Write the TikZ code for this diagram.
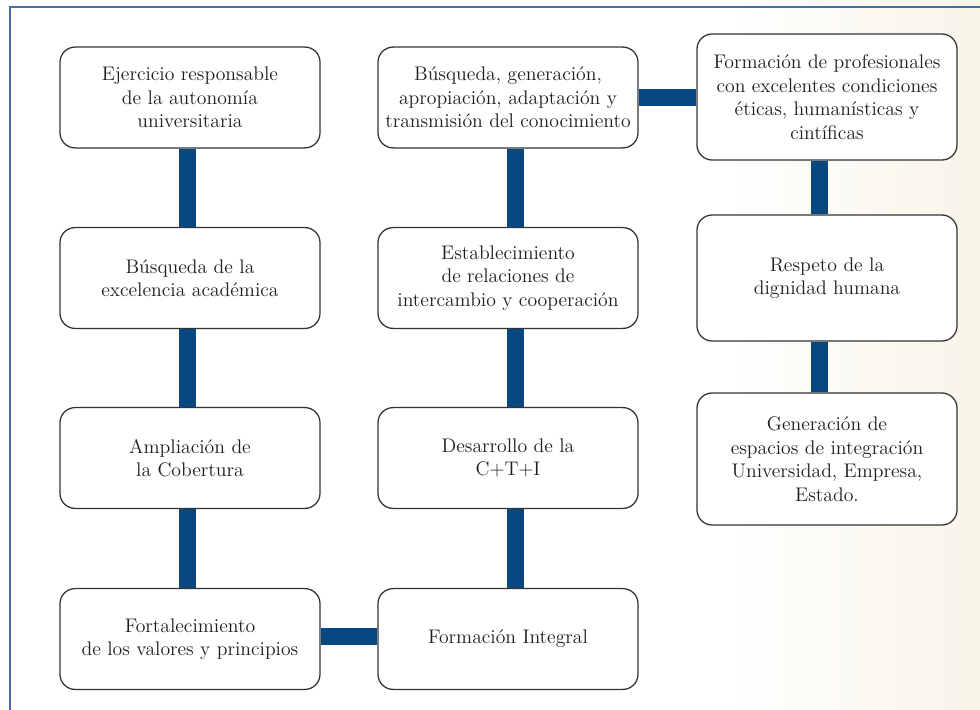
\documentclass[tikz,border=0pt]{standalone}
\usepackage{fontspec}
\usetikzlibrary{positioning}

\definecolor{barblue}{RGB}{8,72,128}
\definecolor{frameblue}{RGB}{70,110,165}
\definecolor{cream}{RGB}{249,244,232}
\definecolor{textgray}{RGB}{30,30,30}

\tikzset{
  valbox/.style={draw=black!80, line width=0.9pt, rounded corners=0.38cm, fill=white,
    minimum width=6.5cm, minimum height=2.52cm, align=center, text=textgray,
    font=\fontsize{14}{16.7}\selectfont},
  tallbox/.style={valbox, minimum height=3.15cm},
  link/.style={draw=barblue, line width=0.425cm}
}

\begin{document}
\begin{tikzpicture}[x=0.025cm,y=-0.025cm]
	\useasboundingbox (0,0) rectangle (980,710);
	% background
	\fill[white] (0,0) rectangle (980,710);
	\shade[left color=white, right color=cream] (730,0) rectangle (980,710);
	\draw[frameblue, line width=1pt] (10,710) -- (10,7) -- (980,7);

	% first column
	\node[valbox] (a1) at (190,97.5) {Ejercicio responsable\\de la autonomía\\universitaria};
	\node[valbox] (a2) at (190,278) {Búsqueda de la\\excelencia académica};
	\node[valbox] (a3) at (190,458) {Ampliación de\\la Cobertura};
	\node[valbox] (a4) at (190,639) {Fortalecimiento\\de los valores y principios};

	% second column
	\node[valbox] (b1) at (508,97.5) {Búsqueda, generación,\\apropiación, adaptación y\\transmisión del conocimiento};
	\node[valbox] (b2) at (508,278) {Establecimiento\\de relaciones de\\intercambio y cooperación};
	\node[valbox] (b3) at (508,458) {Desarrollo de la\\C+T+I};
	\node[valbox] (b4) at (508,639) {Formación Integral};

	% third column
	\node[tallbox] (c1) at (827,97) {Formación de profesionales\\con excelentes condiciones\\éticas, humanísticas y\\cintíficas};
	\node[tallbox] (c2) at (827,278) {Respeto de la\\dignidad humana};
	\node[tallbox, minimum height=3.3cm] (c3) at (827,459) {Generación de\\espacios de integración\\Universidad, Empresa,\\Estado.};

	% links
	\path[link] (a1.south -| 187.5,0) -- (a2.north -| 187.5,0);
	\path[link] (a2.south -| 187.5,0) -- (a3.north -| 187.5,0);
	\path[link] (a3.south -| 187.5,0) -- (a4.north -| 187.5,0);
	\path[link] (b1.south -| 515.5,0) -- (b2.north -| 515.5,0);
	\path[link] (b2.south -| 515.5,0) -- (b3.north -| 515.5,0);
	\path[link] (b3.south -| 515.5,0) -- (b4.north -| 515.5,0);
	\path[link] (c1.south -| 819,0) -- (c2.north -| 819,0);
	\path[link] (c2.south -| 819,0) -- (c3.north -| 819,0);
	\path[link] (b1.east |- 0,97.5) -- (c1.west |- 0,97.5);
	\path[link] (a4.east |- 0,636) -- (b4.west |- 0,636);
\end{tikzpicture}
\end{document}
